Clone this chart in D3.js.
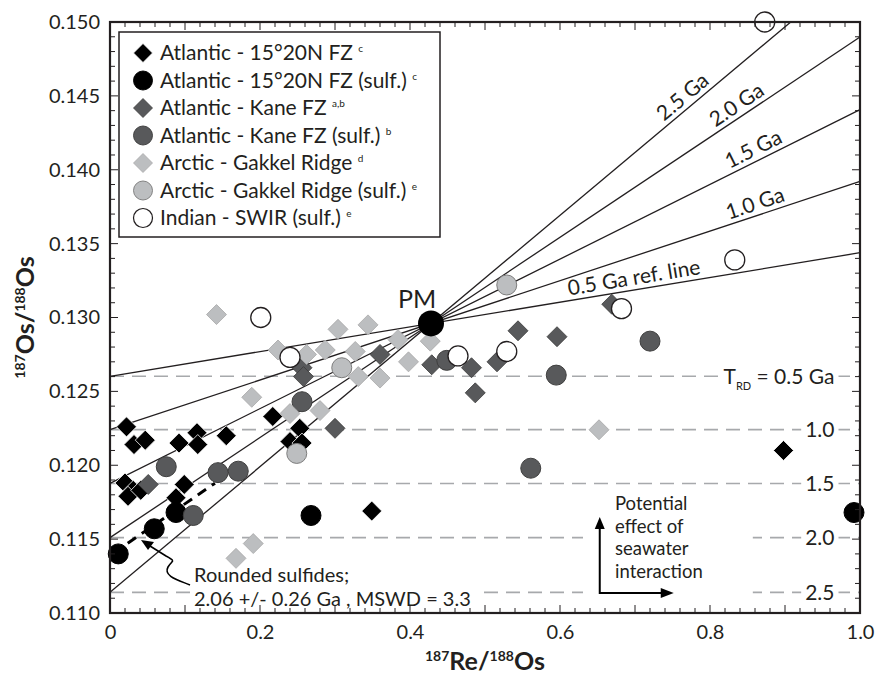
<!DOCTYPE html>
<html>
<head>
<meta charset="utf-8">
<script src="https://cdn.jsdelivr.net/npm/d3@7/dist/d3.min.js"></script>
<style>
body { margin: 0; background: #fff; }
svg text { font-family: Lato, "Noto Sans", sans-serif; fill: #231f20; }
</style>
</head>
<body>
<div id="chart"></div>
<script>
// Re-Os data [187Re/188Os, 187Os/188Os]
var atl1520Rock = [[0.022,0.1226],[0.032,0.1214],[0.047,0.1217],[0.092,0.1215],[0.116,0.1222],[0.117,0.1214],
    [0.155,0.1220],[0.217,0.1233],[0.253,0.1225],[0.240,0.1216],[0.256,0.1215],[0.020,0.1188],[0.031,0.1183],
    [0.024,0.1179],[0.041,0.1183],[0.099,0.1187],[0.088,0.1178],[0.349,0.1169],[0.898,0.1210]];
var atl1520Sulf = [[0.011,0.1140],[0.059,0.1157],[0.088,0.1168],[0.268,0.1166],[0.992,0.1168]];
var kaneRock = [[0.360,0.1275],[0.429,0.1268],[0.482,0.1266],[0.487,0.1249],[0.516,0.1270],[0.544,0.1291],
    [0.596,0.1287],[0.669,0.1309],[0.256,0.1266],[0.258,0.1260],[0.300,0.1225],[0.051,0.1187]];
var kaneSulf = [[0.075,0.1199],[0.144,0.1195],[0.171,0.1196],[0.111,0.1166],[0.256,0.1243],[0.449,0.1271],
    [0.595,0.1261],[0.561,0.1198],[0.720,0.1284]];
var gakkelRock = [[0.142,0.1302],[0.304,0.1292],[0.344,0.1295],[0.224,0.1278],[0.262,0.1275],[0.287,0.1278],
    [0.327,0.1277],[0.384,0.1285],[0.427,0.1284],[0.398,0.1270],[0.331,0.1260],[0.360,0.1259],[0.189,0.1246],
    [0.240,0.1235],[0.280,0.1237],[0.652,0.1224],[0.168,0.1137],[0.191,0.1147]];
var gakkelSulf = [[0.249,0.1208],[0.309,0.1266],[0.529,0.1322]];
var swirSulf = [[0.201,0.1300],[0.240,0.1273],[0.464,0.1274],[0.529,0.1277],[0.682,0.1306],[0.833,0.1339],[0.873,0.1500]];

var pmPoint = [0.428, 0.1296];           // primitive mantle
var isoAges = [0.5, 1.0, 1.5, 2.0, 2.5]; // Ga, reference isochrons through PM
var isoLabels = ["0.5 Ga ref. line", "1.0 Ga", "1.5 Ga", "2.0 Ga", "2.5 Ga"];
var isoLabelX = [0.613, 0.827, 0.829, 0.811, 0.743];
var rdLabels = ["0.5 Ga", "1.0", "1.5", "2.0", "2.5"];
var sulfFit = {age: 2.06, intercept: 0.1139, xmax: 0.14};

var xTicks = [0, 0.2, 0.4, 0.6, 0.8, 1.0];
var xTickLabels = ["0", "0.2", "0.4", "0.6", "0.8", "1.0"];
var yTicks = [0.110, 0.115, 0.120, 0.125, 0.130, 0.135, 0.140, 0.145, 0.150];

var legendNames = ["Atlantic - 15°20N FZ", "Atlantic - 15°20N FZ (sulf.)", "Atlantic - Kane FZ",
    "Atlantic - Kane FZ (sulf.)", "Arctic - Gakkel Ridge", "Arctic - Gakkel Ridge (sulf.)", "Indian - SWIR (sulf.)"];
var legendRefs = ["c", "c", "a,b", "b", "d", "e", "e"];

var width = 877, height = 680;
var margin = {top: 22, right: 17, bottom: 67, left: 110};

var x = d3.scaleLinear().domain([0, 1]).range([margin.left, width - margin.right]);
var y = d3.scaleLinear().domain([0.110, 0.150]).range([height - margin.bottom, margin.top]);

var lambda = 0.01666; // 187Re decay constant, per Ga
function slope(t) { return Math.expm1(lambda * t); }

var svg = d3.select("#chart").append("svg")
    .attr("width", width)
    .attr("height", height);

var styles = [
    {shape: "dia", fill: "#000", stroke: "#fff", sw: 0.8},
    {shape: "circ", fill: "#000", stroke: "#000", sw: 1},
    {shape: "dia", fill: "#58595b", stroke: "#3a3a3a", sw: 0.8},
    {shape: "circ", fill: "#58595b", stroke: "#3f3f3f", sw: 1},
    {shape: "dia", fill: "#bcbec0", stroke: "#a8a8a8", sw: 0.8},
    {shape: "circ", fill: "#bcbec0", stroke: "#7d7d7d", sw: 1},
    {shape: "circ", fill: "#fff", stroke: "#231f20", sw: 1.3}
];
var seriesData = [atl1520Rock, atl1520Sulf, kaneRock, kaneSulf, gakkelRock, gakkelSulf, swirSulf];

var diamondPath = "M0,-10L10,0L0,10L-10,0Z";

function drawMarker(g, st) {
    if (st.shape == "dia") {
        g.append("path").attr("d", diamondPath);
    } else {
        g.append("circle").attr("r", 10);
    }
    g.selectAll("path,circle")
        .attr("fill", st.fill)
        .attr("stroke", st.stroke)
        .attr("stroke-width", st.sw);
}

// T_RD dashed lines (Re/Os = 0 intercepts of the reference isochrons)
var rdG = svg.append("g");
isoAges.forEach(function(t, i) {
    var yy = pmPoint[1] - pmPoint[0] * slope(t);
    rdG.append("line")
        .attr("x1", x(0)).attr("x2", x(1))
        .attr("y1", y(yy)).attr("y2", y(yy))
        .attr("stroke", "#a7a9ac")
        .attr("stroke-width", 1.6)
        .attr("stroke-dasharray", "14,8");
});

// white boxes behind annotation text, so the dashed lines break there
var maskG = svg.append("g");

// isochron lines
var isoG = svg.append("g");
isoAges.forEach(function(t, i) {
    var s = slope(t);
    var xEnd = Math.min(1, pmPoint[0] + (0.150 - pmPoint[1]) / s);
    var y0 = pmPoint[1] - pmPoint[0] * s;
    var y1 = pmPoint[1] + (xEnd - pmPoint[0]) * s;
    isoG.append("line")
        .attr("x1", x(0)).attr("y1", y(y0))
        .attr("x2", x(xEnd)).attr("y2", y(y1))
        .attr("stroke", "#231f20")
        .attr("stroke-width", 1.3);
    var lx = isoLabelX[i];
    var ly = pmPoint[1] + (lx - pmPoint[0]) * s;
    var ang = Math.atan2(y(y1) - y(y0), x(xEnd) - x(0)) * 180 / Math.PI;
    isoG.append("text")
        .attr("transform", "translate(" + x(lx) + "," + y(ly) + ") rotate(" + ang + ")")
        .attr("dy", -5)
        .style("font-size", "21px")
        .text(isoLabels[i]);
});

// fitted line for rounded sulfides
var fs = slope(sulfFit.age);
svg.append("line")
    .attr("x1", x(0.005)).attr("y1", y(sulfFit.intercept + 0.005 * fs))
    .attr("x2", x(sulfFit.xmax)).attr("y2", y(sulfFit.intercept + sulfFit.xmax * fs))
    .attr("stroke", "#000")
    .attr("stroke-width", 3)
    .attr("stroke-dasharray", "10,7");

// data points
seriesData.forEach(function(data, i) {
    var st = styles[i];
    var g = svg.append("g");
    data.forEach(function(d) {
        var m = g.append("g").attr("transform", "translate(" + x(d[0]) + "," + y(d[1]) + ")");
        drawMarker(m, st);
    });
});

// primitive mantle
svg.append("circle")
    .attr("cx", x(pmPoint[0])).attr("cy", y(pmPoint[1]))
    .attr("r", 13).attr("fill", "#000");
svg.append("text")
    .attr("x", x(pmPoint[0]) - 14).attr("y", y(pmPoint[1]) - 15)
    .attr("text-anchor", "middle")
    .style("font-size", "25px")
    .text("PM");

// T_RD labels at right
var labG = svg.append("g");
isoAges.forEach(function(t, i) {
    var yy = pmPoint[1] - pmPoint[0] * slope(t);
    var tx = labG.append("text")
        .attr("x", x(0.966)).attr("y", y(yy))
        .attr("dy", "0.35em")
        .attr("text-anchor", "end")
        .style("font-size", "21px");
    if (i == 0) {
        tx.append("tspan").text("T");
        tx.append("tspan").attr("dy", 6).style("font-size", "11px").text("RD");
        tx.append("tspan").attr("dy", -6).text(" = " + rdLabels[i]);
    } else {
        tx.text(rdLabels[i]);
    }
    var bb = tx.node().getBBox();
    maskG.append("rect").attr("x", bb.x - 4).attr("y", bb.y).attr("width", bb.width + 8).attr("height", bb.height).attr("fill", "#fff");
});

// rounded sulfides note
var noteG = svg.append("g");
var note = noteG.append("text").style("font-size", "20px");
note.append("tspan").attr("x", 194).attr("y", 582).text("Rounded sulfides;");
note.append("tspan").attr("x", 194).attr("y", 606).text("2.06 +/- 0.26 Ga , MSWD = 3.3");
var nb = note.node().getBBox();
maskG.append("rect").attr("x", nb.x - 4).attr("y", nb.y).attr("width", nb.width + 12).attr("height", nb.height).attr("fill", "#fff");
noteG.append("path")
    .attr("d", "M190,585 C178,580 163,576 168,567 C172,560 177,562 166,556 L150,546")
    .attr("fill", "none").attr("stroke", "#000").attr("stroke-width", 1.6);
noteG.append("path")
    .attr("d", "M141,540 L154,542 L148,550 Z")
    .attr("fill", "#000");

// seawater note
var swG = svg.append("g");
["Potential", "effect of", "seawater", "interaction"].forEach(function(s, i) {
    swG.append("text").attr("x", 615).attr("y", 510 + i * 22.5)
        .style("font-size", "18.5px").text(s);
});
var sb = swG.node().getBBox();
maskG.append("rect").attr("x", 583).attr("y", sb.y).attr("width", sb.x + sb.width - 583 + 50).attr("height", sb.height + 22).attr("fill", "#fff");
var ax0 = x(0.653), ay0 = y(0.11135);
swG.append("path")
    .attr("d", "M" + ax0 + "," + (ay0 - 68) + " V" + ay0 + " H" + (ax0 + 64))
    .attr("fill", "none").attr("stroke", "#000").attr("stroke-width", 2);
swG.append("path").attr("d", "M" + ax0 + "," + (ay0 - 76) + " l-5,12 h10 Z").attr("fill", "#000");
swG.append("path").attr("d", "M" + (ax0 + 74) + "," + ay0 + " l-13,-5 v10 Z").attr("fill", "#000");

// axes with inward ticks
function minorTicks(a, b, step) { return d3.range(Math.round(a / step), Math.round(b / step) + 1).map(function(k) { return +(k * step).toFixed(4); }); }
var xMinor = minorTicks(0, 1, 0.02), xMajor = minorTicks(0, 1, 0.1);
var yMinor = minorTicks(0.110, 0.150, 0.001), yMajor = minorTicks(0.110, 0.150, 0.005);

var tickG = svg.append("g").attr("stroke", "#231f20").attr("stroke-width", 1);
xMinor.forEach(function(v) {
    var len = xMajor.indexOf(v) >= 0 ? 8 : 5;
    tickG.append("line").attr("x1", x(v)).attr("x2", x(v)).attr("y1", y(0.110)).attr("y2", y(0.110) - len);
    tickG.append("line").attr("x1", x(v)).attr("x2", x(v)).attr("y1", y(0.150)).attr("y2", y(0.150) + len);
});
yMinor.forEach(function(v) {
    var len = yMajor.indexOf(v) >= 0 ? 8 : 5;
    tickG.append("line").attr("y1", y(v)).attr("y2", y(v)).attr("x1", x(0)).attr("x2", x(0) + len);
    tickG.append("line").attr("y1", y(v)).attr("y2", y(v)).attr("x1", x(1)).attr("x2", x(1) - len);
});

svg.append("rect")
    .attr("x", x(0)).attr("y", y(0.150))
    .attr("width", x(1) - x(0)).attr("height", y(0.110) - y(0.150))
    .attr("fill", "none").attr("stroke", "#231f20").attr("stroke-width", 2.2);

var xAxis = d3.axisBottom(x).tickValues(xTicks).tickSize(0).tickPadding(12)
    .tickFormat(function(d, i) { return xTickLabels[i]; });
svg.append("g").attr("transform", "translate(0," + y(0.110) + ")").call(xAxis)
    .call(function(g) { g.select(".domain").remove(); })
    .selectAll("text").style("font-size", "20px").style("font-family", "Lato").attr("fill", "#231f20");

var yAxis = d3.axisLeft(y).tickValues(yTicks).tickSize(0).tickPadding(10)
    .tickFormat(d3.format(".3f"));
svg.append("g").attr("transform", "translate(" + x(0) + ",0)").call(yAxis)
    .call(function(g) { g.select(".domain").remove(); })
    .selectAll("text").style("font-size", "20px").style("font-family", "Lato").attr("fill", "#231f20");

// axis titles
var xt = svg.append("text").attr("x", x(0.5)).attr("y", 670).attr("text-anchor", "middle")
    .style("font-size", "25px").style("font-weight", "bold");
xt.append("tspan").attr("dy", -9).style("font-size", "14px").text("187");
xt.append("tspan").attr("dy", 9).text("Re/");
xt.append("tspan").attr("dy", -9).style("font-size", "14px").text("188");
xt.append("tspan").attr("dy", 9).text("Os");

var yt = svg.append("text").attr("transform", "translate(34," + y(0.130) + ") rotate(-90)").attr("text-anchor", "middle")
    .style("font-size", "25px").style("font-weight", "bold");
yt.append("tspan").attr("dy", -9).style("font-size", "14px").text("187");
yt.append("tspan").attr("dy", 9).text("Os/");
yt.append("tspan").attr("dy", -9).style("font-size", "14px").text("188");
yt.append("tspan").attr("dy", 9).text("Os");

// legend
var leg = svg.append("g");
leg.append("rect").attr("x", 119).attr("y", 32).attr("width", 321).attr("height", 205)
    .attr("fill", "#fff").attr("stroke", "#231f20").attr("stroke-width", 1.5);
legendNames.forEach(function(name, i) {
    var ry = 53 + i * 27.5;
    var m = leg.append("g").attr("transform", "translate(143," + ry + ") scale(0.95)");
    drawMarker(m, styles[i]);
    var t = leg.append("text").attr("x", 160).attr("y", ry).attr("dy", "0.35em").style("font-size", "21px");
    t.append("tspan").text(name + " ");
    t.append("tspan").attr("dy", -8).style("font-size", "10px").text(legendRefs[i]);
});
</script>
</body>
</html>
